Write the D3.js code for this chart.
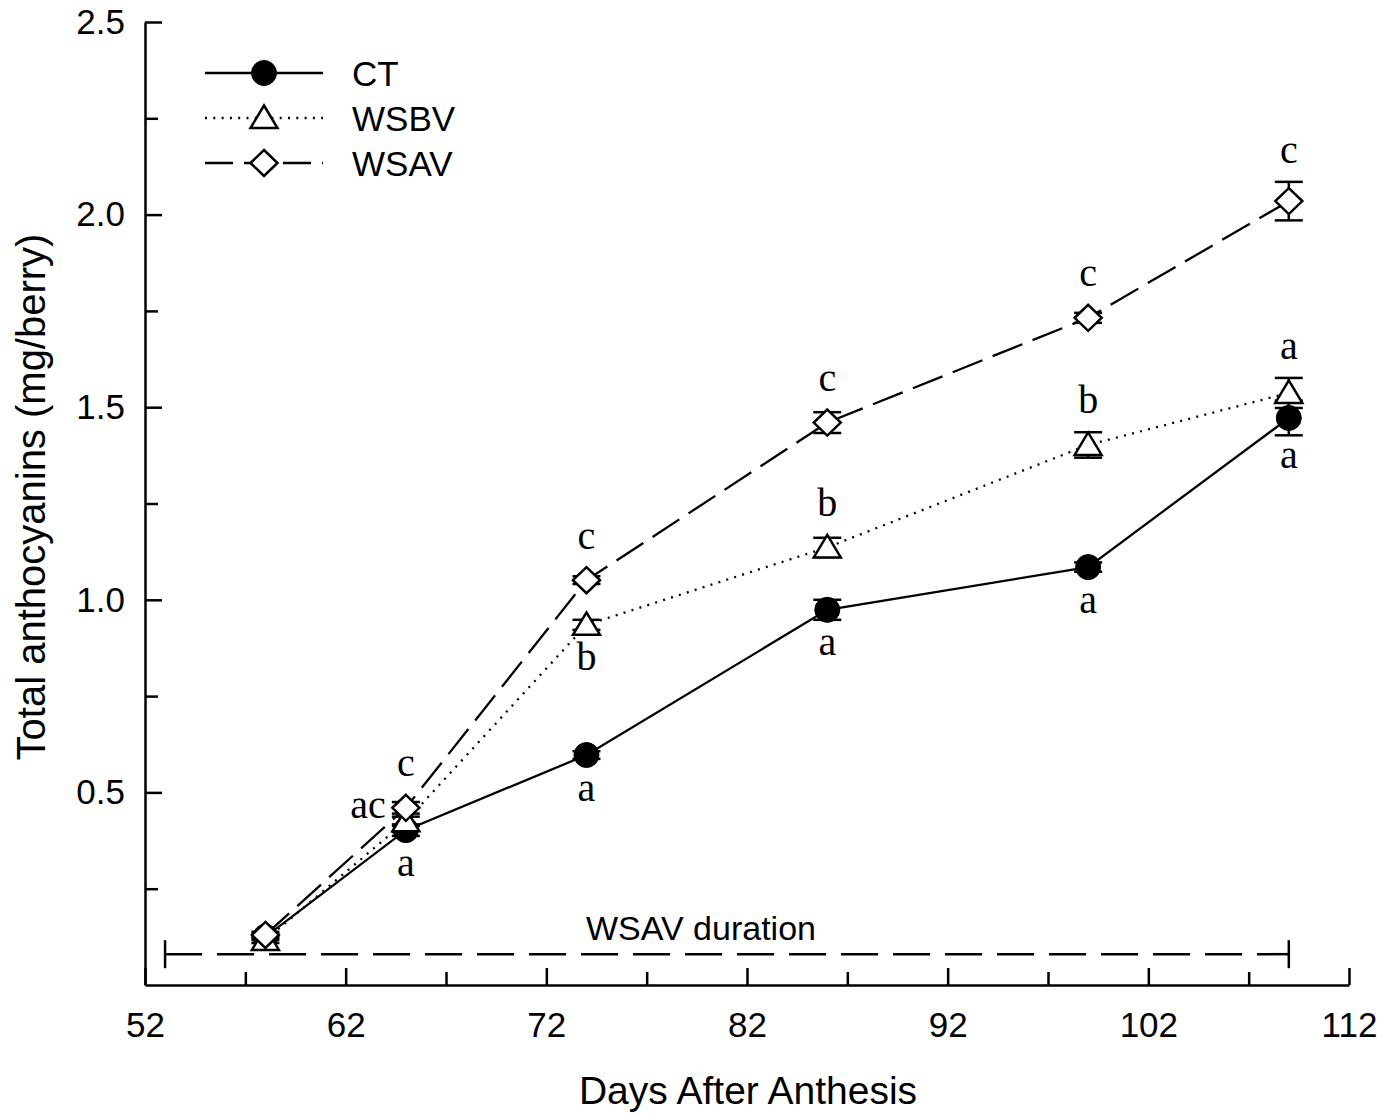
<!DOCTYPE html>
<html>
<head>
<meta charset="utf-8">
<script src="https://cdn.jsdelivr.net/npm/d3@7"></script>
<style>
  html, body { margin: 0; padding: 0; background: #fff; }
  svg { display: block; }
</style>
</head>
<body>
<svg id="chart" width="1387" height="1115"></svg>
<script>
// Sampling days (days after anthesis)
const days = [58, 65, 74, 86, 99, 109];

// Total anthocyanins (mg/berry), mean and standard error per treatment
const ctMean   = [0.125, 0.402, 0.597, 0.974, 1.085, 1.472];
const ctErr    = [0.008, 0.015, 0.010, 0.026, 0.012, 0.045];
const wsbvMean = [0.117, 0.425, 0.935, 1.136, 1.402, 1.537];
const wsbvErr  = [0.008, 0.012, 0.013, 0.025, 0.033, 0.039];
const wsavMean = [0.130, 0.460, 1.051, 1.460, 1.732, 2.035];
const wsavErr  = [0.008, 0.015, 0.010, 0.027, 0.013, 0.050];

// Significance letters per treatment and where they sit relative to the point
const ctLetters   = ["", "a", "a", "a", "a", "a"];
const ctSide      = ["", "below", "below", "below", "below", "below"];
const wsbvLetters = ["", "ac", "b", "b", "b", "a"];
const wsbvSide    = ["", "left", "below", "above", "above", "above"];
const wsavLetters = ["", "c", "c", "c", "c", "c"];
const wsavSide    = ["", "above", "above", "above", "above", "above"];

// Axis ticks
const xMajorTicks = [52, 62, 72, 82, 92, 102, 112];
const xMinorTicks = [57, 67, 77, 87, 97, 107];
const yMajorTicks = [0.5, 1.0, 1.5, 2.0, 2.5];
const yMinorTicks = [0.25, 0.75, 1.25, 1.75, 2.25];

// Stress period bar
const durationDays = [53, 109];
const durationLevel = 0.08;
const durationLabel = "WSAV duration";

const seriesNames = ["CT", "WSBV", "WSAV"];

const sans = "'Liberation Sans', Arial, Helvetica, sans-serif";
const serif = "'Liberation Serif', 'Times New Roman', Times, serif";

const svg = d3.select("#chart");
const x = d3.scaleLinear().domain([52, 112]).range([145, 1349]);
const y = d3.scaleLinear().domain([0, 2.5]).range([985, 22]);

const series = [
  { name: seriesNames[0], mean: ctMean, err: ctErr, letters: ctLetters, side: ctSide,
    marker: "circle", dash: null, legendDash: null },
  { name: seriesNames[1], mean: wsbvMean, err: wsbvErr, letters: wsbvLetters, side: wsbvSide,
    marker: "triangle", dash: "2,6.3", legendDash: "2,6.3" },
  { name: seriesNames[2], mean: wsavMean, err: wsavErr, letters: wsavLetters, side: wsavSide,
    marker: "diamond", dash: "32,11", legendDash: "28,11" }
];

function markerPath(kind) {
  if (kind === "triangle") return "M0,-12.5L13.5,10L-13.5,10Z";
  if (kind === "diamond") return "M0,-13L13.5,0L0,13L-13.5,0Z";
  return null;
}
function drawMarker(g, kind, cx, cy) {
  if (kind === "circle") {
    g.append("circle").attr("cx", cx).attr("cy", cy).attr("r", 12.5)
      .attr("fill", "#000").attr("stroke", "#000").attr("stroke-width", 1);
  } else {
    g.append("path").attr("d", markerPath(kind))
      .attr("transform", `translate(${cx},${cy})`)
      .attr("fill", "#fff").attr("stroke", "#000").attr("stroke-width", 2.5)
      .attr("stroke-linejoin", "miter");
  }
}

// ---- Axes ----
const xAxisG = svg.append("g").attr("transform", `translate(0,${y(0)})`);
xAxisG.call(d3.axisBottom(x).tickValues(xMajorTicks).tickSize(-17).tickSizeOuter(0)
  .tickPadding(27).tickFormat(d3.format("d")));
const xMinorG = svg.append("g").attr("transform", `translate(0,${y(0)})`);
xMinorG.call(d3.axisBottom(x).tickValues(xMinorTicks).tickSize(-13).tickSizeOuter(0).tickFormat(""));
xMinorG.select(".domain").remove();

const yAxisG = svg.append("g").attr("transform", `translate(${x(52)},0)`);
yAxisG.call(d3.axisLeft(y).tickValues(yMajorTicks).tickSize(-17).tickSizeOuter(0)
  .tickPadding(20).tickFormat(d3.format(".1f")));
const yMinorG = svg.append("g").attr("transform", `translate(${x(52)},0)`);
yMinorG.call(d3.axisLeft(y).tickValues(yMinorTicks).tickSize(-13).tickSizeOuter(0).tickFormat(""));
yMinorG.select(".domain").remove();

svg.selectAll(".domain, .tick line").attr("stroke", "#000").attr("stroke-width", 2.5);
svg.selectAll(".tick text").attr("font-family", sans).attr("font-size", 35).attr("fill", "#000");

// Axis titles
svg.append("text")
  .attr("x", 748).attr("y", 1104)
  .attr("text-anchor", "middle")
  .attr("font-family", sans).attr("font-size", 39).attr("fill", "#000")
  .text("Days After Anthesis");
svg.append("text")
  .attr("transform", "translate(45,497) rotate(-90)")
  .attr("text-anchor", "middle")
  .attr("font-family", sans).attr("font-size", 40).attr("fill", "#000")
  .text("Total anthocyanins (mg/berry)");

// ---- Stress duration bar ----
const durG = svg.append("g");
const dy = y(durationLevel);
durG.append("line")
  .attr("x1", x(durationDays[0])).attr("x2", x(durationDays[1]))
  .attr("y1", dy).attr("y2", dy)
  .attr("stroke", "#000").attr("stroke-width", 2.5).attr("stroke-dasharray", "37,15");
durationDays.forEach(d => {
  durG.append("line")
    .attr("x1", x(d)).attr("x2", x(d)).attr("y1", dy - 14).attr("y2", dy + 14)
    .attr("stroke", "#000").attr("stroke-width", 2.5);
});
durG.append("text")
  .attr("x", 701).attr("y", 940)
  .attr("text-anchor", "middle")
  .attr("font-family", sans).attr("font-size", 34).attr("fill", "#000")
  .text(durationLabel);

// ---- Data lines ----
const line = d3.line().x((d, i) => x(days[i])).y(d => y(d));
const plotG = svg.append("g");
series.forEach(s => {
  plotG.append("path")
    .attr("d", line(s.mean))
    .attr("fill", "none").attr("stroke", "#000").attr("stroke-width", 2.3)
    .attr("stroke-dasharray", s.dash);
});

// ---- Error bars ----
const capHalf = 14;
series.forEach(s => {
  s.mean.forEach((m, i) => {
    const cx = x(days[i]);
    const yTop = y(m + s.err[i]), yBot = y(m - s.err[i]);
    plotG.append("line").attr("x1", cx).attr("x2", cx).attr("y1", yTop).attr("y2", yBot)
      .attr("stroke", "#000").attr("stroke-width", 2.5);
    [yTop, yBot].forEach(yy => {
      plotG.append("line").attr("x1", cx - capHalf).attr("x2", cx + capHalf)
        .attr("y1", yy).attr("y2", yy).attr("stroke", "#000").attr("stroke-width", 2.5);
    });
  });
});

// ---- Markers ----
series.forEach(s => {
  s.mean.forEach((m, i) => drawMarker(plotG, s.marker, x(days[i]), y(m)));
});

// ---- Significance letters ----
series.forEach(s => {
  s.mean.forEach((m, i) => {
    const txt = s.letters[i];
    if (!txt) return;
    const cx = x(days[i]);
    const cy = y(m);
    let tx = cx, ty, anchor = "middle";
    if (s.side[i] === "above") {
      ty = Math.min(cy - 12.5, y(m + s.err[i])) - 19;
    } else if (s.side[i] === "below") {
      ty = Math.max(cy + 12.5, y(m - s.err[i])) + 33;
    } else {
      tx = cx - 20; ty = cy - 3; anchor = "end";
    }
    plotG.append("text")
      .attr("x", tx).attr("y", ty).attr("text-anchor", anchor)
      .attr("font-family", serif).attr("font-size", 40).attr("fill", "#000")
      .text(txt);
  });
});

// ---- Legend ----
const legendRows = [73, 118, 163];
const legG = svg.append("g");
series.forEach((s, i) => {
  const ly = legendRows[i];
  legG.append("line")
    .attr("x1", 205).attr("x2", 323).attr("y1", ly).attr("y2", ly)
    .attr("stroke", "#000").attr("stroke-width", 2.3)
    .attr("stroke-dasharray", s.legendDash);
  drawMarker(legG, s.marker, 264, ly);
  legG.append("text")
    .attr("x", 352).attr("y", ly + 13)
    .attr("font-family", sans).attr("font-size", 35).attr("fill", "#000")
    .text(s.name);
});
</script>
</body>
</html>
